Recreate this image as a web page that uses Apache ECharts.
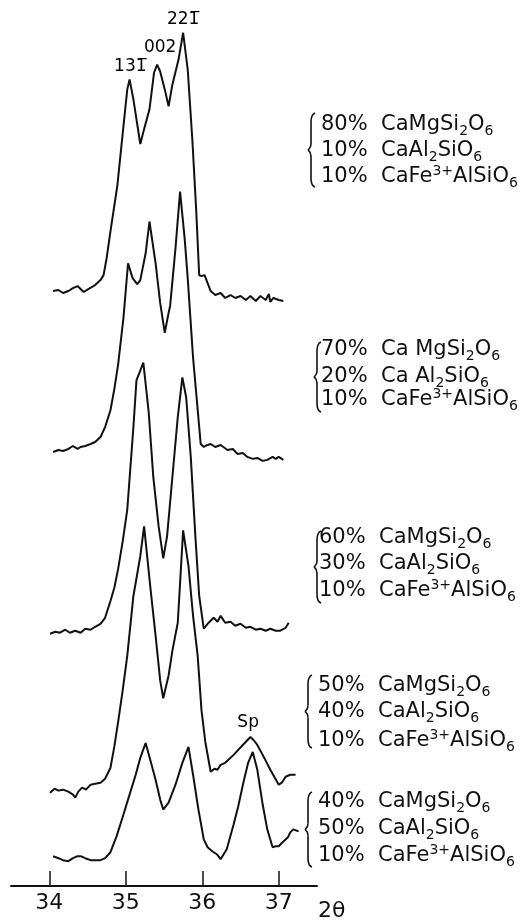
<!DOCTYPE html>
<html>
<head>
<meta charset="utf-8">
<script src="https://cdn.jsdelivr.net/npm/echarts@6/dist/echarts.min.js"></script>
<style>
html,body{margin:0;padding:0;background:#fff;}
#chart{width:528px;height:922px;}
</style>
</head>
<body>
<div id="chart"></div>
<script>
// ---- data: XRD traces, [2θ (deg), intensity (arb. units, stacked offset)] ----
const trace80 = [[34.05,599],[34.12,600],[34.18,597],[34.25,599],[34.31,602],[34.37,604],[34.41,601],[34.45,598],[34.51,601],[34.60,605],[34.67,610],[34.71,615],[34.75,632],[34.80,659],[34.89,705],[34.97,765],[35.02,802],[35.05,812],[35.10,792],[35.19,747],[35.24,762],[35.31,782],[35.37,819],[35.41,827],[35.45,820],[35.51,802],[35.56,785],[35.61,807],[35.69,832],[35.75,859],[35.81,822],[35.87,752],[35.92,682],[35.96,615],[35.99,614],[36.03,615],[36.07,607],[36.11,599],[36.17,595],[36.24,597],[36.30,592],[36.37,595],[36.43,592],[36.50,594],[36.57,590],[36.63,594],[36.70,589],[36.76,594],[36.83,590],[36.87,596],[36.89,588],[36.93,592],[37.00,590],[37.06,589]];
const trace70 = [[34.05,437],[34.12,439],[34.18,438],[34.25,440],[34.31,443],[34.37,440],[34.41,442],[34.47,443],[34.54,445],[34.60,447],[34.67,452],[34.73,462],[34.80,479],[34.85,500],[34.90,525],[34.97,572],[35.03,627],[35.09,612],[35.15,606],[35.19,610],[35.26,637],[35.31,669],[35.39,627],[35.45,587],[35.51,557],[35.56,577],[35.58,584],[35.65,642],[35.71,699],[35.77,652],[35.81,612],[35.88,532],[35.98,445],[36.02,442],[36.07,444],[36.11,445],[36.17,442],[36.24,444],[36.33,439],[36.40,440],[36.46,435],[36.53,436],[36.59,432],[36.66,430],[36.72,431],[36.79,428],[36.85,429],[36.92,432],[36.96,430],[37.00,432],[37.06,429]];
const trace60 = [[34.01,254],[34.08,256],[34.14,255],[34.21,258],[34.27,255],[34.34,257],[34.41,255],[34.47,259],[34.54,258],[34.60,261],[34.67,264],[34.73,270],[34.80,287],[34.85,300],[34.90,319],[34.96,347],[35.02,379],[35.10,462],[35.14,509],[35.16,510],[35.23,527],[35.30,477],[35.36,412],[35.43,362],[35.49,330],[35.54,352],[35.61,412],[35.68,472],[35.74,512],[35.79,492],[35.85,432],[35.91,352],[35.96,292],[36.02,259],[36.07,264],[36.11,267],[36.15,270],[36.20,266],[36.24,272],[36.30,265],[36.37,266],[36.43,262],[36.50,264],[36.57,260],[36.63,261],[36.70,258],[36.76,259],[36.83,257],[36.89,259],[36.96,257],[37.02,257],[37.09,260],[37.13,265]];
const trace50 = [[34.01,94],[34.07,98],[34.12,96],[34.18,97],[34.25,95],[34.31,92],[34.34,89],[34.38,95],[34.43,99],[34.48,97],[34.54,102],[34.60,103],[34.67,104],[34.73,108],[34.80,119],[34.85,140],[34.90,165],[34.96,197],[35.02,232],[35.10,292],[35.19,332],[35.24,362],[35.32,302],[35.39,252],[35.45,207],[35.49,189],[35.56,212],[35.61,237],[35.68,265],[35.75,358],[35.82,322],[35.88,272],[35.94,232],[35.99,177],[36.04,145],[36.11,115],[36.16,118],[36.20,117],[36.24,122],[36.30,124],[36.41,132],[36.53,142],[36.63,150],[36.67,147],[36.72,142],[36.79,132],[36.89,117],[37.00,102],[37.04,104],[37.09,110],[37.15,112],[37.22,112]];
const trace40 = [[34.05,30],[34.12,28],[34.18,26],[34.25,25],[34.31,28],[34.37,30],[34.41,30],[34.47,28],[34.54,26],[34.60,26],[34.67,26],[34.73,28],[34.80,34],[34.88,50],[34.97,72],[35.05,92],[35.13,112],[35.19,129],[35.26,144],[35.32,127],[35.39,107],[35.45,87],[35.49,77],[35.56,84],[35.65,102],[35.74,124],[35.82,140],[35.88,112],[35.95,77],[36.02,47],[36.07,39],[36.13,35],[36.19,32],[36.24,27],[36.32,37],[36.41,62],[36.47,80],[36.54,105],[36.60,124],[36.66,135],[36.72,117],[36.79,82],[36.85,57],[36.92,39],[36.96,40],[37.00,40],[37.05,44],[37.12,49],[37.15,54],[37.19,57],[37.26,55]];

// peak labels: [name] and [2θ, intensity]
const peakNames = ['13' + '1\u0305', '002', '22' + '1\u0305', 'Sp'];
const peakPos = [[35.06,825],[35.45,844],[35.75,872],[36.60,165]];

// compositions (mol %)
const pctCaMg = [80, 70, 60, 50, 40];
const pctCaAl = [10, 20, 30, 40, 50];
const pctCaFe = [10, 10, 10, 10, 10];

const tickValues = [34, 35, 36, 37];
const axisName = '2θ';

// ---- layout (label block positions in px) ----
const blockLineY = [[125,151,177],[350,377,400],[538,564,591],[686,712,741],[802,829,856]];
const blockTextX = [321, 321, 319, 318, 318];
const braceGeom = [[311,113,187],[317,342,412],[317,531,603],[308,675,748],[308,792,867]];

const chart = echarts.init(document.getElementById('chart'), null, {renderer:'canvas'});
const FONT = 'DejaVu Sans';
const INK = '#111';
const lineStyle = {color:INK, width:2};
const traces = [trace80, trace70, trace60, trace50, trace40];

const rich = {
  n: {fontFamily: FONT, fontSize: 21, lineHeight: 26, fill: INK},
  s: {fontFamily: FONT, fontSize: 14, lineHeight: 15, verticalAlign: 'bottom', fill: INK},
  u: {fontFamily: FONT, fontSize: 14, lineHeight: 15, verticalAlign: 'top', fill: INK}
};

function lines(i){
  const spaced = (i === 1);
  return [
    '{n|' + pctCaMg[i] + '%  Ca' + (spaced ? ' ' : '') + 'MgSi}{s|2}{n|O}{s|6}',
    '{n|' + pctCaAl[i] + '%  Ca' + (spaced ? ' ' : '') + 'Al}{s|2}{n|SiO}{s|6}',
    '{n|' + pctCaFe[i] + '%  CaFe}{u|3+}{n|AlSiO}{s|6}'
  ];
}

const braceStyle = {fill: null, stroke: INK, lineWidth: 1.6};
function braceParts(x, t, b){
  const m = (t + b) / 2;
  return [
    {type:'bezierCurve', silent:true, style:braceStyle,
      shape:{x1:x+4, y1:t, cpx1:x+1, cpy1:t+1, cpx2:x, cpy2:t+4, x2:x, y2:t+9}},
    {type:'line', silent:true, style:braceStyle, shape:{x1:x, y1:t+9, x2:x, y2:m-6}},
    {type:'bezierCurve', silent:true, style:braceStyle,
      shape:{x1:x, y1:m-6, cpx1:x, cpy1:m-2, cpx2:x-2, cpy2:m-1, x2:x-3, y2:m}},
    {type:'bezierCurve', silent:true, style:braceStyle,
      shape:{x1:x-3, y1:m, cpx1:x-2, cpy1:m+1, cpx2:x, cpy2:m+2, x2:x, y2:m+6}},
    {type:'line', silent:true, style:braceStyle, shape:{x1:x, y1:m+6, x2:x, y2:b-9}},
    {type:'bezierCurve', silent:true, style:braceStyle,
      shape:{x1:x, y1:b-9, cpx1:x, cpy1:b-4, cpx2:x+1, cpy2:b-1, x2:x+4, y2:b}}
  ];
}

const graphics = [];
for (let i = 0; i < 5; i++) {
  const ls = lines(i);
  for (let k = 0; k < 3; k++) {
    graphics.push({
      type: 'text', x: blockTextX[i], y: blockLineY[i][k], silent: true,
      style: {text: ls[k], rich: rich, fill:INK, font: '21px "' + FONT + '"', verticalAlign: 'middle', align: 'left'}
    });
  }
  const g = braceGeom[i];
  braceParts(g[0], g[1], g[2]).forEach(function(p){ graphics.push(p); });
}

const series = traces.map(function(t){
  return {type:'line', data:t, showSymbol:false, symbol:'none', lineStyle:lineStyle, smooth:false, silent:true};
});
series.push({
  type:'scatter', symbolSize:0, silent:true,
  itemStyle: {opacity: 1, color: INK},
  data: peakPos.map(function(p, i){ return {name: peakNames[i], value: p}; }),
  label: {show:true, position:'inside', formatter:'{b}', color:'#000', opacity:1, fontFamily: FONT, fontSize:17}
});

chart.setOption({
  animation: false,
  backgroundColor: '#fff',
  grid: {left: 11, right: 211, top: 0, bottom: 30},
  xAxis: {
    type: 'value', min: 33.5, max: 37.5,
    name: axisName, nameLocation: 'end', nameGap: 1,
    nameTextStyle: {color:INK, fontFamily: FONT, fontSize: 22, align:'left', verticalAlign:'top', padding:[14,0,0,0]},
    axisLine: {show:true, lineStyle:{color:INK, width:2}},
    axisTick: {show:true, inside:true, length:15, lineStyle:{color:INK, width:1.5}, customValues: tickValues},
    axisLabel: {show:true, color:INK, fontFamily: FONT, fontSize: 22, margin: 6, customValues: tickValues},
    splitLine: {show:false}
  },
  yAxis: {type:'value', min:0, max:892, show:false},
  series: series,
  graphic: graphics
});
</script>
</body>
</html>
